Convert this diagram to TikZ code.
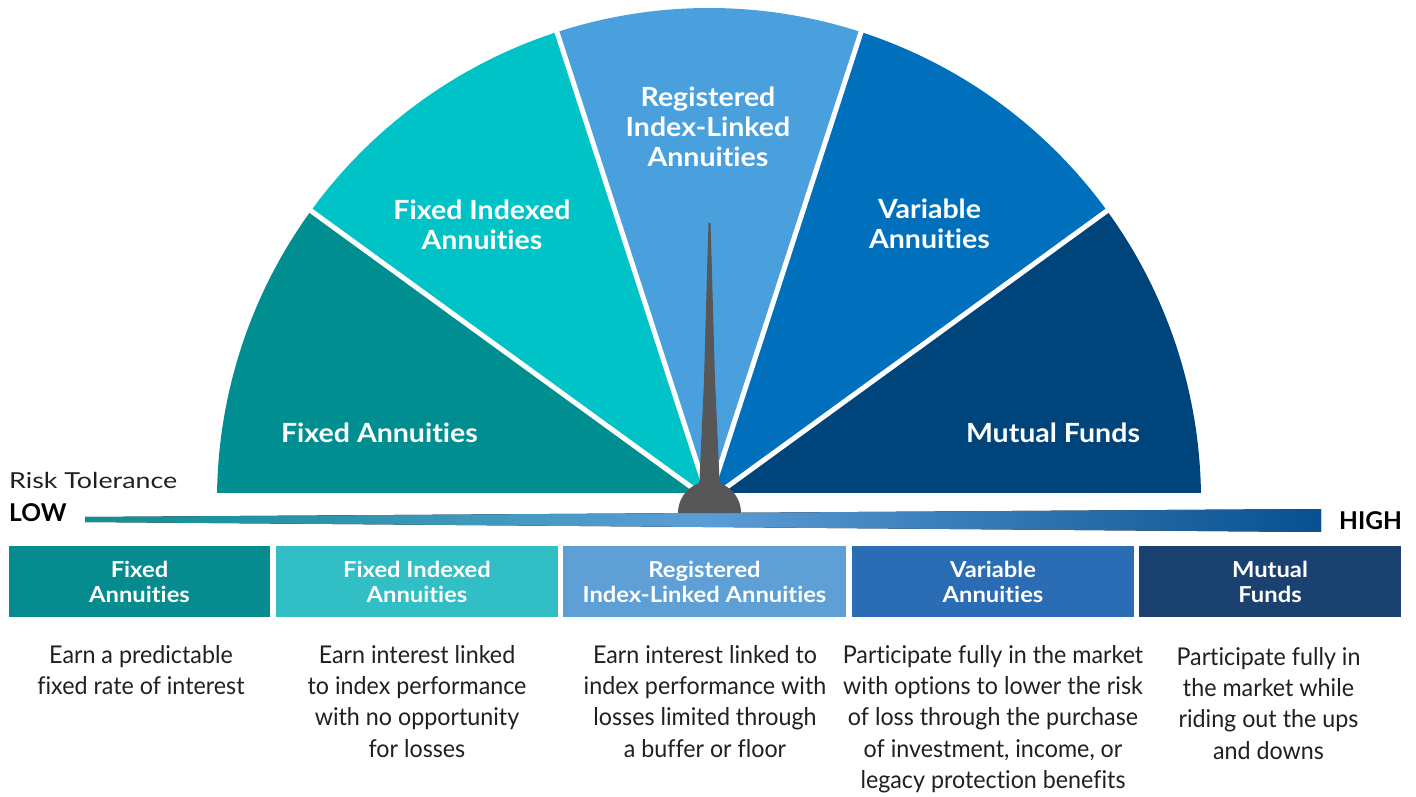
\documentclass[tikz,border=0pt]{standalone}
\usepackage{fontspec}
\setmainfont{Lato}[Ligatures=NoCommon]
\newfontfamily\boldlab{Lato}[FakeStretch=1.08, Ligatures=NoCommon]
\newfontfamily\widelab{Lato}[FakeStretch=1.22, Ligatures=NoCommon]
\newfontfamily\descfont{Lato}[FakeStretch=0.95, Ligatures=NoCommon]
\definecolor{segA}{HTML}{008E91}
\definecolor{segB}{HTML}{00C3C8}
\definecolor{segC}{HTML}{4AA0DC}
\definecolor{segD}{HTML}{0070BC}
\definecolor{segE}{HTML}{00447C}
\definecolor{boxA}{HTML}{068B8E}
\definecolor{boxB}{HTML}{31BEC5}
\definecolor{boxC}{HTML}{5EA0D6}
\definecolor{boxD}{HTML}{2B6DB4}
\definecolor{boxE}{HTML}{1B4170}
\definecolor{gradL}{HTML}{0E8F91}
\definecolor{gradM}{HTML}{5B9DD6}
\definecolor{gradR}{HTML}{08508F}
\definecolor{needlegray}{HTML}{575757}
\definecolor{dtext}{HTML}{231F20}
\tikzset{
  seglab/.style={text=white, font=\boldlab\bfseries\fontsize{26.4}{30}\selectfont, align=center, inner sep=0pt},
  boxlab/.style={text=white, font=\boldlab\bfseries\fontsize{22}{25}\selectfont, align=center, inner sep=0pt, minimum height=71pt},
  desc/.style={text=dtext, font=\descfont\fontsize{24.5}{31.3}\selectfont, align=center, anchor=north, inner sep=0pt},
  needle/.style={fill=needlegray}
}
\begin{document}
\begin{tikzpicture}[x=1pt,y=1pt]
\useasboundingbox (0,0) rectangle (1416,796);
% gauge segments
\begin{scope}
\clip (0,303) rectangle (1416,796);
\foreach \a/\c in {0/segE,36/segD,72/segC,108/segB,144/segA}{
  \fill[\c] (709,296) -- ++(\a:492) arc[start angle=\a, end angle=\a+36, radius=492] -- cycle;
}
\foreach \a in {36,72,108,144}{
  \draw[white, line width=5pt] (709,296) -- ++(\a:500);
}
\end{scope}
% gradient bar
\fill[left color=gradL, right color=gradR, middle color=gradM] (85,279) -- (1321,287) -- (1321,264) -- (85,274) -- cycle;
% needle
\fill[needle] (697.5,300) -- (699.5,316) -- (704,416) -- (706.8,516) -- (708.5,573) -- (710.5,573) -- (712.2,516) -- (715,416) -- (719.5,316) -- (721.5,300) -- cycle;
\fill[needle] (678,283) arc[start angle=180, end angle=0, radius=31.5] -- cycle;
% segment labels
\node[seglab] (s1) at (379.5,363.5) {Fixed Annuities};
\node[seglab] (s2) at (482,571) {Fixed Indexed\\Annuities};
\node[seglab] (s3) at (708,669) {Registered\\Index-Linked\\Annuities};
\node[seglab] (s4) at (929.5,572) {Variable\\Annuities};
\node[seglab] (s5) at (1053,363.5) {Mutual Funds};
% risk tolerance
\node[anchor=base west, inner sep=0pt, text=dtext, font=\widelab\fontsize{22}{26}\selectfont] (rt) at (9,307) {Risk Tolerance};
\node[anchor=base west, inner sep=0pt, text=black, font=\bfseries\fontsize{24.5}{28}\selectfont] (low) at (9,275) {LOW};
\node[anchor=base west, inner sep=0pt, text=black, font=\bfseries\fontsize{24.5}{28}\selectfont] (high) at (1339,267) {HIGH};
% boxes
\node[boxlab, fill=boxA, minimum width=261pt] (b1) at (139.5,214.5) {Fixed\\Annuities};
\node[boxlab, fill=boxB, minimum width=282pt] (b2) at (417,214.5) {Fixed Indexed\\Annuities};
\node[boxlab, fill=boxC, minimum width=283pt] (b3) at (704.5,214.5) {Registered\\Index-Linked Annuities};
\node[boxlab, fill=boxD, minimum width=282pt] (b4) at (993,214.5) {Variable\\Annuities};
\node[boxlab, fill=boxE, minimum width=262pt] (b5) at (1270,214.5) {Mutual\\Funds};
% descriptions
\node[desc] (d1) at (141,151) {Earn a predictable\\fixed rate of interest};
\node[desc] (d2) at (417,151) {Earn interest linked\\to index performance\\with no opportunity\\for losses};
\node[desc] (d3) at (705,151) {Earn interest linked to\\index performance with\\losses limited through\\a buffer or floor};
\node[desc] (d4) at (993,151) {Participate fully in the market\\with options to lower the risk\\of loss through the purchase\\of investment, income, or\\legacy protection benefits};
\node[desc] (d5) at (1268.5,149) {Participate fully in\\the market while\\riding out the ups\\and downs};
\end{tikzpicture}
\end{document}
